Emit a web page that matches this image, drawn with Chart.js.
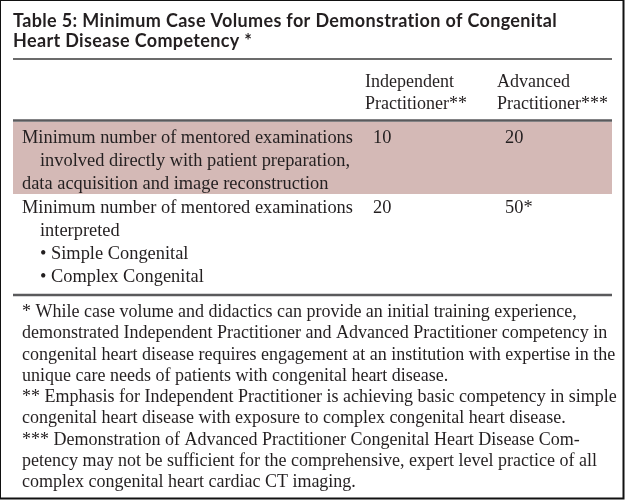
<!DOCTYPE html>
<html>
<head>
<meta charset="utf-8">
<script src="https://cdn.jsdelivr.net/npm/chart.js@4.4.1/dist/chart.umd.min.js"></script>
<style>
  html, body { margin: 0; padding: 0; background: #fff; }
  #wrap { width: 625px; height: 500px; }
</style>
</head>
<body>
<div id="wrap"><canvas id="tableChart" width="625" height="500"></canvas></div>
<script>
//-----------------------------------------------------
// Table 5 content
//-----------------------------------------------------
const titleLines = [
    'Table 5: Minimum Case Volumes for Demonstration of Congenital',
    'Heart Disease Competency *'
];
const columnHeaders = [
    ['Independent', 'Practitioner**'],
    ['Advanced', 'Practitioner***']
];
const rowLabels = [
    ['Minimum number of mentored examinations',
     'involved directly with patient preparation,',
     'data acquisition and image reconstruction'],
    ['Minimum number of mentored examinations',
     'interpreted',
     '\u2022 Simple Congenital',
     '\u2022 Complex Congenital']
];
const independentValues = ['10', '20'];
const advancedValues = ['20', '50*'];
const footnotes = [
    '* While case volume and didactics can provide an initial training experience,',
    'demonstrated Independent Practitioner and Advanced Practitioner competency in',
    'congenital heart disease requires engagement at an institution with expertise in the',
    'unique care needs of patients with congenital heart disease.',
    '** Emphasis for Independent Practitioner is achieving basic competency in simple',
    'congenital heart disease with exposure to complex congenital heart disease.',
    '*** Demonstration of Advanced Practitioner Congenital Heart Disease Com-',
    'petency may not be sufficient for the comprehensive, expert level practice of all',
    'complex congenital heart cardiac CT imaging.'
];

//-----------------------------------------------------
// Layout (scale units == pixels)
//-----------------------------------------------------
const W = 625, H = 500;
const tableLeft = 13, tableRight = 612;
const titleX = 13, titleBase = [27, 47];
const topRuleY = 59, headRuleY = 120.5, bottomRuleY = 295;
const shadeTop = 122, shadeBottom = 194;
const headerX = [365, 497], headerBase = [87, 109];
const valueX = [373, 505];
const labelX = 22, indentX = 40;
const rowBase = [[143, 166, 189], [213, 236, 259, 282]];
const rowIndent = [[0, 1, 0], [0, 1, 1, 1]];
const footX = 22, footBase0 = 317, footStep = 21.25;

const serif = '"Liberation Serif", "Times New Roman", serif';
const textColor = '#231f20';

function hline(y, color, width) {
    return {
        data: [{ x: tableLeft, y: y }, { x: tableRight, y: y }],
        borderColor: color,
        borderWidth: width,
        pointRadius: 0,
        fill: false,
        clip: false
    };
}

// text drawn through the scales
const tableText = {
    id: 'tableText',
    afterDatasetsDraw(chart) {
        const ctx = chart.ctx;
        const xs = chart.scales.x, ys = chart.scales.y;
        const px = v => xs.getPixelForValue(v);
        const py = v => ys.getPixelForValue(v);
        ctx.save();
        ctx.fillStyle = textColor;
        ctx.textBaseline = 'alphabetic';
        ctx.textAlign = 'left';

        ctx.font = 'bold 18px Lato, sans-serif';
        ctx.letterSpacing = '0.35px';
        titleLines.forEach((t, i) => ctx.fillText(t, px(titleX), py(titleBase[i])));
        ctx.letterSpacing = '0px';

        ctx.font = '18px ' + serif;
        columnHeaders.forEach((lines, c) => {
            lines.forEach((t, i) => ctx.fillText(t, px(headerX[c]), py(headerBase[i])));
        });

        ctx.font = '18.4px ' + serif;
        rowLabels.forEach((lines, r) => {
            lines.forEach((t, i) => {
                const x = rowIndent[r][i] ? indentX : labelX;
                ctx.fillText(t, px(x), py(rowBase[r][i]));
            });
            ctx.fillText(independentValues[r], px(valueX[0]), py(rowBase[r][0]));
            ctx.fillText(advancedValues[r], px(valueX[1]), py(rowBase[r][0]));
        });

        ctx.font = '18px ' + serif;
        footnotes.forEach((t, i) => {
            ctx.fillText(t, px(footX), py(footBase0 + i * footStep));
        });
        ctx.restore();
    }
};

new Chart(document.getElementById('tableChart'), {
    type: 'line',
    data: {
        datasets: [
            // shaded first row
            {
                data: [{ x: tableLeft, y: shadeTop }, { x: tableRight, y: shadeTop }],
                borderWidth: 0,
                pointRadius: 0,
                backgroundColor: '#d4b9b6',
                fill: '+1',
                clip: false
            },
            {
                data: [{ x: tableLeft, y: shadeBottom }, { x: tableRight, y: shadeBottom }],
                borderWidth: 0,
                pointRadius: 0,
                fill: false,
                clip: false
            },
            hline(topRuleY, '#3a3a3a', 1.5),
            hline(headRuleY, '#5a5a5c', 2.5),
            hline(bottomRuleY, '#5a5a5c', 2.5),
            // outer frame
            {
                data: [{ x: 0, y: 0 }, { x: 623.5, y: 0 }, { x: 623.5, y: 498.5 }, { x: 0, y: 498.5 }, { x: 0, y: 0 }],
                borderColor: '#111',
                borderWidth: 2,
                pointRadius: 0,
                fill: false,
                clip: false
            }
        ]
    },
    options: {
        responsive: false,
        animation: false,
        events: [],
        layout: { padding: 0 },
        plugins: { legend: { display: false }, tooltip: { enabled: false } },
        scales: {
            x: { type: 'linear', min: 0, max: W, display: false },
            y: { type: 'linear', min: 0, max: H, reverse: true, display: false }
        }
    },
    plugins: [tableText]
});
</script>
</body>
</html>
